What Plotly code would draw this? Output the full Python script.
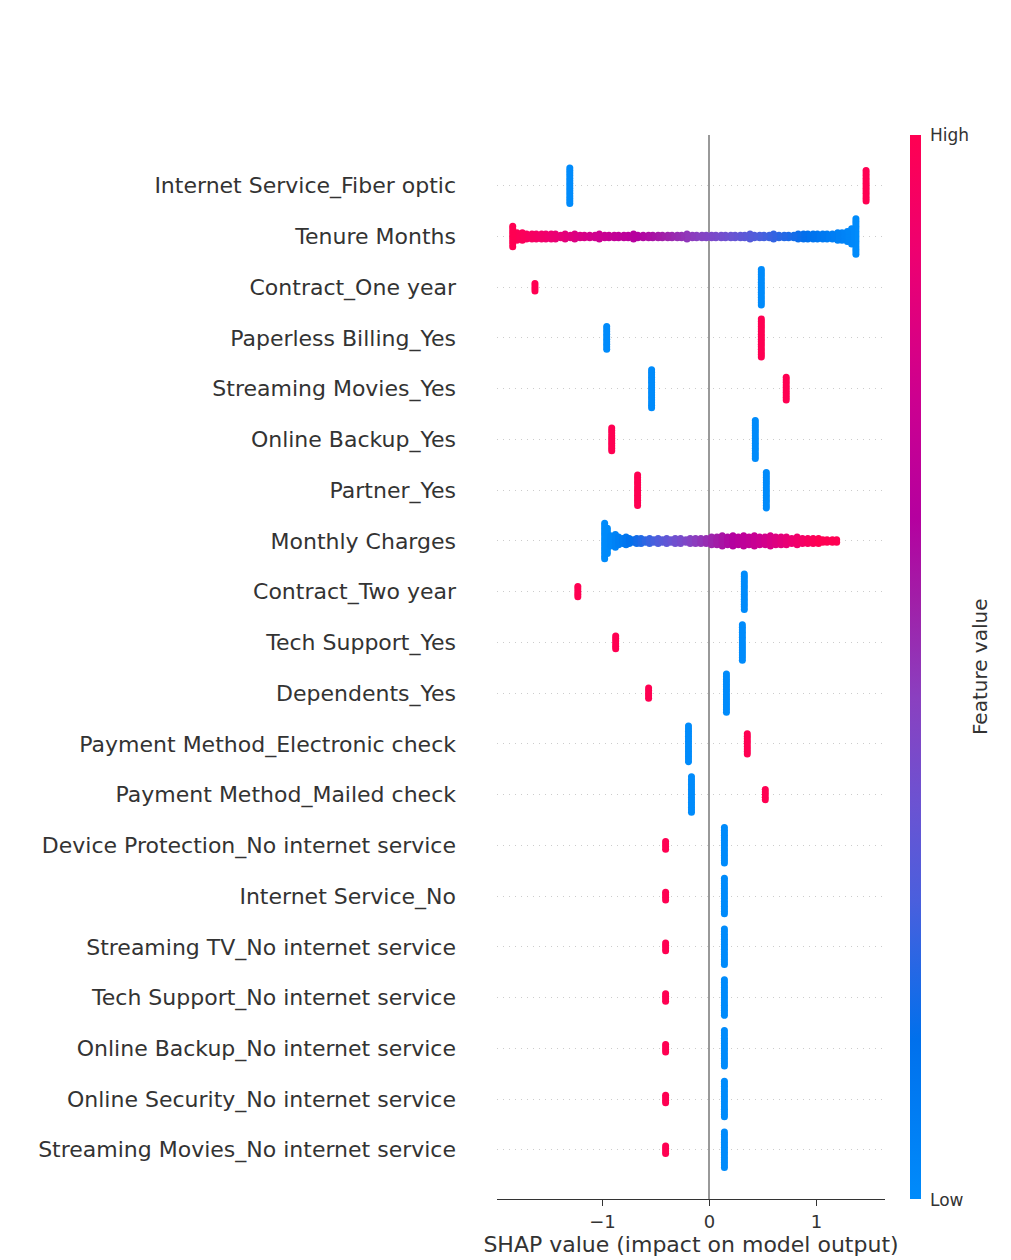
import plotly.graph_objects as go

# ---------------- data ----------------
features = [
    "Internet Service_Fiber optic", "Tenure Months", "Contract_One year",
    "Paperless Billing_Yes", "Streaming Movies_Yes", "Online Backup_Yes",
    "Partner_Yes", "Monthly Charges", "Contract_Two year", "Tech Support_Yes",
    "Dependents_Yes", "Payment Method_Electronic check", "Payment Method_Mailed check",
    "Device Protection_No internet service", "Internet Service_No",
    "Streaming TV_No internet service", "Tech Support_No internet service",
    "Online Backup_No internet service", "Online Security_No internet service",
    "Streaming Movies_No internet service",
]

# binary features: SHAP value / stacked sample count for low (0) and high (1) values
bin_rows   = [0, 2, 3, 4, 5, 6, 8, 9, 10, 11, 12, 13, 14, 15, 16, 17, 18, 19]
low_shap   = [-1.306, 0.485, -0.961, -0.541, 0.429, 0.532, 0.326, 0.308, 0.159, -0.196, -0.168,
              0.140, 0.140, 0.140, 0.140, 0.140, 0.140, 0.140]
low_n      = [15, 15, 10, 16, 16, 15, 15, 15, 16, 15, 15, 15, 15, 15, 15, 15, 15, 15]
high_shap  = [1.465, -1.632, 0.485, 0.718, -0.914, -0.672, -1.231, -0.877, -0.569, 0.354, 0.522,
              -0.410, -0.410, -0.410, -0.410, -0.410, -0.410, -0.410]
high_n     = [13, 4, 16, 10, 10, 13, 5, 6, 5, 9, 5, 4, 4, 4, 4, 4, 4, 4]

# Tenure Months: months 1..72 -> SHAP value, stacked sample count
tenure_months = list(range(1, 73))
tenure_shap = [1.37, 1.33, 1.29, 1.24, 1.20, 1.15, 1.10, 1.06, 1.01, 0.97, 0.92, 0.88,
               0.83, 0.79, 0.74, 0.70, 0.65, 0.60, 0.56, 0.51, 0.47, 0.42, 0.38, 0.33,
               0.29, 0.24, 0.20, 0.15, 0.11, 0.06, 0.02, -0.03, -0.07, -0.12, -0.16, -0.21,
               -0.26, -0.30, -0.35, -0.39, -0.44, -0.48, -0.53, -0.57, -0.62, -0.67, -0.71, -0.76,
               -0.80, -0.85, -0.89, -0.94, -0.98, -1.03, -1.07, -1.12, -1.17, -1.21, -1.26, -1.30,
               -1.35, -1.39, -1.44, -1.48, -1.53, -1.57, -1.62, -1.66, -1.71, -1.75, -1.80, -1.84]
tenure_n = [15, 7, 5, 4, 4, 3, 3, 3, 3, 3, 3, 3,
            3, 2, 2, 2, 2, 3, 2, 2, 2, 2, 3, 2,
            2, 2, 2, 2, 2, 2, 2, 2, 2, 2, 2, 3,
            2, 2, 2, 2, 2, 2, 2, 2, 2, 2, 3, 2,
            2, 2, 2, 2, 2, 3, 2, 2, 2, 2, 3, 2,
            3, 2, 3, 3, 3, 3, 3, 3, 3, 4, 4, 9]

# Monthly Charges ($) -> SHAP value, stacked sample count
monthly_charges = [19.5, 20.5, 22, 24, 26, 28, 30, 32, 34, 36, 38, 40, 42, 44, 46, 48, 50,
                   52, 54, 56, 58, 60, 62, 64, 66, 68, 70, 72, 74, 76, 78, 80, 82, 84, 86,
                   88, 90, 92, 94, 96, 98, 100, 102, 104, 106, 108, 110, 112, 115, 118]
mc_shap = [-0.98, -0.955, -0.925, -0.88, -0.85, -0.81, -0.78, -0.75, -0.71, -0.68, -0.64,
           -0.60, -0.56, -0.52, -0.48, -0.44, -0.40, -0.36, -0.32, -0.27, -0.22, -0.18,
           -0.13, -0.08, -0.03, 0.02, 0.07, 0.12, 0.17, 0.22, 0.27, 0.32, 0.37, 0.42,
           0.47, 0.52, 0.57, 0.62, 0.67, 0.72, 0.77, 0.82, 0.87, 0.92, 0.97, 1.02, 1.06,
           1.10, 1.15, 1.19]
mc_n = [15, 11, 5, 6, 4, 3, 4, 3, 2, 3, 3, 2, 3, 2, 3, 2, 3, 2, 3, 3, 2, 3, 3, 3, 3,
        4, 4, 5, 4, 5, 4, 5, 4, 5, 4, 4, 5, 4, 4, 4, 3, 4, 3, 3, 3, 3, 2, 2, 2, 2]

x_ticks = [-1, 0, 1]
x_tick_labels = ["\u22121", "0", "1"]

# ---------------- build beeswarm stacks ----------------
N = len(features)
STEP = 0.05
xs, ys, cs = [], [], []


def add_stack(row, shap, fval, n):
    y0 = (N - 1) - row
    for k in range(n):
        xs.append(shap)
        ys.append(y0 + (k - (n - 1) / 2) * STEP)
        cs.append(fval)


for r, ls, ln, hs, hn in zip(bin_rows, low_shap, low_n, high_shap, high_n):
    add_stack(r, ls, 0.0, ln)
    add_stack(r, hs, 1.0, hn)

t_lo, t_hi = min(tenure_months), max(tenure_months)
for t, s, n in zip(tenure_months, tenure_shap, tenure_n):
    add_stack(1, s, (t - t_lo) / (t_hi - t_lo), n)

mc_lo, mc_hi = 20.0, 108.0
for m, s, n in zip(monthly_charges, mc_shap, mc_n):
    add_stack(7, s, min(max((m - mc_lo) / (mc_hi - mc_lo), 0), 1), n)

colorscale = [
    [0.00, "#008bfb"], [0.15, "#0070ec"], [0.28, "#4a5fdd"], [0.37, "#6b53d2"],
    [0.47, "#8a40c0"], [0.56, "#a020a8"], [0.64, "#b5009f"], [0.75, "#cc0090"],
    [0.89, "#ee0070"], [1.00, "#ff0052"],
]

fig = go.Figure()
fig.add_trace(go.Scatter(
    x=xs, y=ys, mode="markers", hoverinfo="skip",
    marker=dict(
        size=7, color=cs, colorscale=colorscale, cmin=0, cmax=1,
        line=dict(width=0),
        showscale=True,
        colorbar=dict(thickness=11, len=1, lenmode="fraction", y=0.5, yanchor="middle",
                      x=1.064, xanchor="left", xpad=0, ypad=0, outlinewidth=0,
                      showticklabels=False, ticks=""),
    ),
    showlegend=False,
))

font_color = "#333333"
fig.update_layout(
    width=1003, height=1252,
    margin=dict(l=489, r=126, t=127, b=61),
    plot_bgcolor="white", paper_bgcolor="white",
    font=dict(family="DejaVu Sans", color=font_color),
    xaxis=dict(
        range=[-1.987, 1.642], tickvals=x_ticks, ticktext=x_tick_labels,
        showgrid=False, zeroline=True, zerolinecolor="#999999", zerolinewidth=2,
        showline=True, linecolor="#333333", linewidth=1,
        ticks="outside", ticklen=6, tickcolor="#333333",
        tickfont=dict(size=18, color=font_color),
        title=dict(text="SHAP value (impact on model output)", font=dict(size=22, color=font_color),
                   standoff=2),
    ),
    yaxis=dict(
        range=[-0.97, 20.0],
        tickvals=[N - 1 - i for i in range(N)], ticktext=features,
        showgrid=True, gridcolor="#cccccc", gridwidth=1, griddash="1px,5px",
        zeroline=False, showline=False, ticks="", ticklabelstandoff=40,
        tickfont=dict(size=22, color=font_color),
    ),
    annotations=[
        dict(text="High", xref="paper", yref="paper", x=1.112, y=1.0, xanchor="left",
             yanchor="middle", showarrow=False, font=dict(size=17, color=font_color)),
        dict(text="Low", xref="paper", yref="paper", x=1.112, y=-0.001, xanchor="left",
             yanchor="middle", showarrow=False, font=dict(size=17, color=font_color)),
        dict(text="Feature value", xref="paper", yref="paper", x=1.245, y=0.5, xanchor="center",
             yanchor="middle", textangle=-90, showarrow=False,
             font=dict(size=20, color=font_color)),
    ],
)

fig.write_html("out.html")
